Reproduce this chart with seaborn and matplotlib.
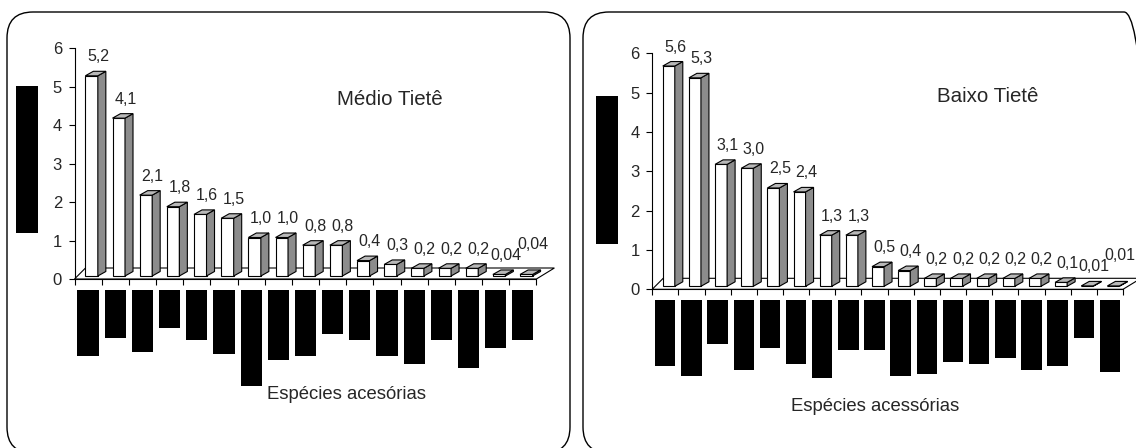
import numpy as np
import pandas as pd
import matplotlib
matplotlib.use("Agg")
import matplotlib.pyplot as plt
import seaborn as sns
from matplotlib.patches import Polygon, Rectangle, FancyBboxPatch

# ==============================
# Data
# ==============================
medio_species = ["m01", "m02", "m03", "m04", "m05", "m06", "m07", "m08", "m09",
                 "m10", "m11", "m12", "m13", "m14", "m15", "m16", "m17"]
medio_vals = [5.2, 4.1, 2.1, 1.8, 1.6, 1.5, 1.0, 1.0, 0.8, 0.8, 0.4, 0.3, 0.2, 0.2, 0.2, 0.04, 0.04]

baixo_species = ["b01", "b02", "b03", "b04", "b05", "b06", "b07", "b08", "b09",
                 "b10", "b11", "b12", "b13", "b14", "b15", "b16", "b17", "b18"]
baixo_vals = [5.6, 5.3, 3.1, 3.0, 2.5, 2.4, 1.3, 1.3, 0.5, 0.4, 0.2, 0.2, 0.2, 0.2, 0.2, 0.1, 0.01, 0.01]

# species names are blacked out in the source, only the length of each black box is kept (px)
medio_name_len = [66, 48, 62, 38, 50, 64, 96, 70, 66, 44, 50, 66, 74, 50, 78, 58, 50]
baixo_name_len = [66, 76, 44, 70, 48, 64, 78, 50, 50, 76, 74, 62, 64, 58, 70, 66, 38, 72]

sns.set_theme(style="ticks")
plt.rcParams["font.family"] = ["Liberation Sans", "DejaVu Sans"]

W, H = 1136, 448
SIDE = "#8c8c8c"
TOP = "#b8b8b8"


def fmt(v):
    s = f"{v:.2f}" if v < 0.1 else f"{v:.1f}"
    return s.replace(".", ",")


def draw_panel(fig, ax, species, vals, name_len, title, title_xy, xlabel, xlabel_xy):
    n = len(vals)
    df = pd.DataFrame({"sp": species, "v": vals})
    sns.barplot(data=df, x="sp", y="v", color="white", saturation=1,
                edgecolor="black", linewidth=0.8, width=0.46, ax=ax, zorder=3)
    bars = list(ax.patches)
    ax.set_xlim(-0.5, n - 0.5)
    ax.set_ylim(0, 6)

    bb = ax.get_window_extent()
    sx = n / bb.width   # data units per pixel
    sy = 6 / bb.height

    # floor of the 3-D plot
    floor = Polygon([(-0.5, 0), (n - 0.5, 0), (n - 0.5 + 18 * sx, 11 * sy),
                     (-0.5 + 11 * sx, 11 * sy)], closed=True, facecolor="white",
                    edgecolor="black", lw=0.8, clip_on=False, zorder=1)
    ax.add_patch(floor)

    dx, dy = 8 * sx, 4.5 * sy
    b0 = 3 * sy
    labels = []
    for i, (p, v) in enumerate(zip(bars, vals)):
        x0 = p.get_x() + 3.5 * sx
        w = p.get_width()
        p.set_x(x0)
        p.set_y(b0)
        p.set_height(v)
        p.set_clip_on(False)
        x1, top = x0 + w, b0 + v
        side = Polygon([(x1, b0), (x1, top), (x1 + dx, top + dy), (x1 + dx, b0 + dy)],
                       closed=True, facecolor=SIDE, edgecolor="black", lw=0.8,
                       clip_on=False, zorder=3)
        cap = Polygon([(x0, top), (x1, top), (x1 + dx, top + dy), (x0 + dx, top + dy)],
                      closed=True, facecolor=TOP, edgecolor="black", lw=0.8,
                      clip_on=False, zorder=3)
        ax.add_patch(side)
        ax.add_patch(cap)
        t = ax.text(i + 10 * sx, top + 19 * sy, fmt(v), ha="center", va="center",
                    fontsize=11.5, clip_on=False)
        labels.append(t)

    # lift a value label that clearly runs into the one before it
    r = fig.canvas.get_renderer()
    prev = None
    for t in labels:
        e = t.get_window_extent(r)
        if prev is not None and e.x0 < prev.x1 - 3 and e.y0 < prev.y1 and e.y1 > prev.y0:
            x, y = t.get_position()
            t.set_y(y + (prev.y1 - e.y0 - 4) * sy)
            e = t.get_window_extent(r)
        prev = e

    # blacked-out species names under the axis
    for i, L in enumerate(name_len):
        ax.add_patch(Rectangle((i - 0.39, -11 * sy), 0.78, -L * sy,
                               facecolor="black", edgecolor="none", clip_on=False))

    ax.set_xticks(np.arange(n + 1) - 0.5)
    ax.set_xticklabels([])
    ax.set_yticks(range(7))
    ax.tick_params(axis="x", length=4.1, width=0.8, direction="out", color="black")
    ax.tick_params(axis="y", length=4, width=0.8, direction="out", color="black",
                   labelsize=12, pad=5)
    for s in ["top", "right"]:
        ax.spines[s].set_visible(False)
    for s in ["left", "bottom"]:
        ax.spines[s].set_color("black")
        ax.spines[s].set_linewidth(0.8)

    ax.set_ylabel("")
    ax.set_xlabel(xlabel, fontsize=13.3, va="center")
    ax.xaxis.set_label_coords(*xlabel_xy)
    ax.text(*title_xy, title, transform=ax.transAxes, ha="center", va="center",
            fontsize=14.8)


fig = plt.figure(figsize=(W / 100, H / 100), dpi=100)
ax1 = fig.add_axes([74.5 / W, (H - 279) / H, 461.9 / W, 231 / H])
ax2 = fig.add_axes([652.2 / W, (H - 289.3) / H, 470.8 / W, 236 / H])

draw_panel(fig, ax1, medio_species, medio_vals, medio_name_len, "Médio Tietê",
           (0.683, 0.775), "Espécies acesórias", (0.588, -0.502))
draw_panel(fig, ax2, baixo_species, baixo_vals, baixo_name_len, "Baixo Tietê",
           (0.713, 0.815), "Espécies acessórias", (0.473, -0.4945))

# blacked-out y-axis titles
fig.add_artist(Rectangle((16.4 / 100, (H - 233) / 100), 21.8 / 100, 147 / 100,
                         transform=fig.dpi_scale_trans, facecolor="black", edgecolor="none"))
fig.add_artist(Rectangle((596 / 100, (H - 244) / 100), 22 / 100, 148 / 100,
                         transform=fig.dpi_scale_trans, facecolor="black", edgecolor="none"))

# rounded panel frames
for x0, w in [(0.07, 5.63), (5.83, 5.67)]:
    fig.add_artist(FancyBboxPatch((x0, -0.05), w, 4.41,
                                  boxstyle="round,pad=0,rounding_size=0.26",
                                  transform=fig.dpi_scale_trans, fill=False,
                                  lw=1.0, ec="black"))

fig.savefig("out.png", dpi=100)
